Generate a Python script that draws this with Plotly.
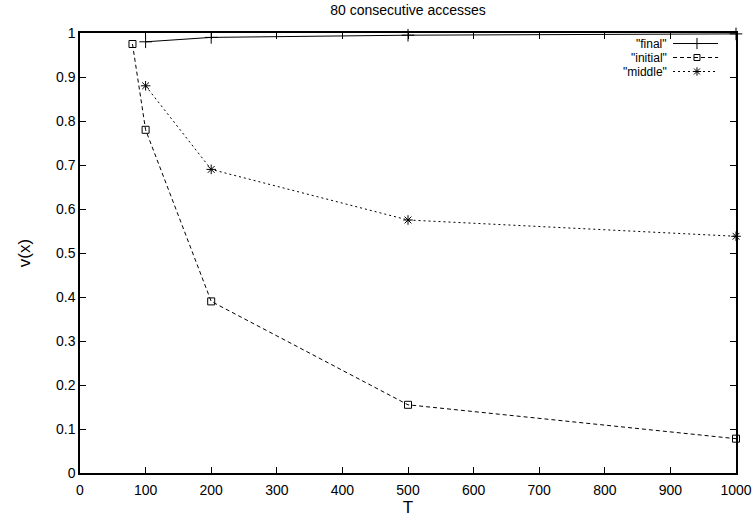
import plotly.graph_objects as go

final_x = [100, 200, 500, 1000]
final_y = [0.980, 0.990, 0.995, 0.998]
initial_x = [80, 100, 200, 500, 1000]
initial_y = [0.975, 0.780, 0.390, 0.155, 0.078]
middle_x = [100, 200, 500, 1000]
middle_y = [0.880, 0.690, 0.575, 0.538]

series = [
    ('"final"', final_x, final_y, "solid", "cross-thin-open", 9),
    ('"initial"', initial_x, initial_y, "4px,3px", "square-open", 7),
    ('"middle"', middle_x, middle_y, "2px,3px", "asterisk-open", 8),
]

FONT = "Liberation Sans, Arial, Helvetica, sans-serif"
FS = 14
fig = go.Figure()
for name, xs, ys, dash, sym, ms in series:
    fig.add_trace(go.Scatter(
        x=xs, y=ys, mode="lines+markers", name=name,
        line=dict(color="black", width=1, dash=dash),
        marker=dict(symbol=sym, size=ms, color="black", line=dict(width=1, color="black")),
        showlegend=False, cliponaxis=False,
    ))

# manual gnuplot-style legend (text right-aligned, sample to the right)
leg_text_x = 0.896
row_y = [0.9761, 0.9443, 0.9125]
for (name, xs, ys, dash, sym, ms), ry in zip(series, row_y):
    fig.add_trace(go.Scatter(
        x=[0.904, 0.9405, 0.9726], y=[ry, ry, ry], xaxis="x2", yaxis="y2",
        mode="lines", line=dict(color="black", width=1, dash=dash),
        showlegend=False, hoverinfo="skip"))
    fig.add_trace(go.Scatter(
        x=[0.9405], y=[ry], xaxis="x2", yaxis="y2", mode="markers",
        marker=dict(symbol=sym, size=ms - 1, color="black", line=dict(width=1, color="black")),
        showlegend=False, hoverinfo="skip"))
    fig.add_annotation(x=leg_text_x, y=ry, xref="x2", yref="y2", text=name,
                       showarrow=False, xanchor="right", yanchor="middle", borderpad=0,
                       font=dict(family=FONT, size=12, color="black"))

axis_common = dict(showgrid=False, zeroline=False, showline=True, linecolor="black",
                   linewidth=1.5, mirror="allticks", ticks="inside", ticklen=6,
                   automargin=False,
                   tickcolor="black", tickfont=dict(family=FONT, size=FS, color="black"))

fig.update_layout(
    template="none",
    width=755, height=518,
    margin=dict(l=80, r=19, t=33, b=45),
    paper_bgcolor="white", plot_bgcolor="white",
    font=dict(family=FONT, size=FS, color="black"),
    title=dict(text="80 consecutive accesses", x=0.5, xref="paper", y=0.99, yanchor="top",
               automargin=False,
               font=dict(family=FONT, size=FS, color="black"), xanchor="center"),
    xaxis=dict(range=[0, 1000], dtick=100, ticklabelstandoff=3,
               title=dict(text="T", standoff=2), **axis_common),
    yaxis=dict(range=[0, 1], dtick=0.1, title=dict(text="v(x)", standoff=21), **axis_common),
    xaxis2=dict(range=[0, 1], overlaying="x", visible=False, fixedrange=True),
    yaxis2=dict(range=[0, 1], overlaying="y", visible=False, fixedrange=True),
    showlegend=False,
)
fig.write_html("out.html")
